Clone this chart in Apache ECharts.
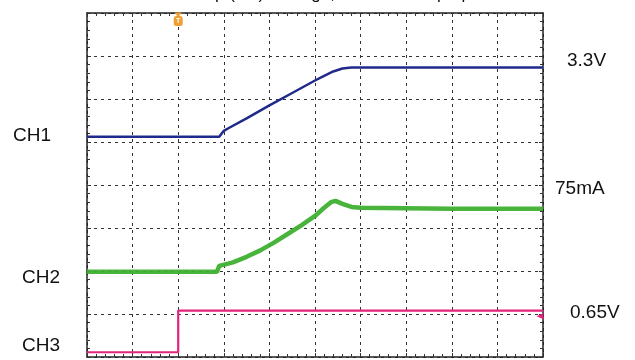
<!DOCTYPE html>
<html>
<head>
<meta charset="utf-8">
<script src="https://cdn.jsdelivr.net/npm/echarts@6/dist/echarts.min.js"></script>
<style>
html,body{margin:0;padding:0;background:#fff;}
#c{width:635px;height:360px;}
</style>
</head>
<body>
<div id="c"></div>
<script>
// Time axis in divisions (0..10), amplitude in divisions (0..8)
const ch1Time = [0, 2.9, 3.0, 3.1, 3.5, 4.0, 4.5, 5.0, 5.2, 5.4, 5.6, 5.8, 10];
const ch1Vals = [5.12, 5.12, 5.26, 5.32, 5.55, 5.85, 6.14, 6.43, 6.54, 6.64, 6.71, 6.73, 6.73];

const ch2Time = [0, 2.85, 2.9, 3.2, 3.5, 3.8, 4.1, 4.4, 4.7, 5.0, 5.2, 5.35, 5.45, 5.6, 5.8, 6.0, 7.0, 8.0, 9.0, 10];
const ch2Vals = [1.98, 1.98, 2.12, 2.2, 2.33, 2.48, 2.66, 2.86, 3.06, 3.28, 3.47, 3.6, 3.63, 3.56, 3.49, 3.47, 3.46, 3.45, 3.45, 3.45];

const ch3Time = [0, 2.0, 2.0, 10];
const ch3Vals = [0.11, 0.11, 1.08, 1.08];

const leftLabels = ['CH1', 'CH2', 'CH3'];
const rightLabels = ['3.3V', '75mA', '0.65V'];
const titleText = 'Start-up (EN): Voltage, Current Ramp-up';
const triggerTime = 2.0;

const chart = echarts.init(document.getElementById('c'));
const zip = (t, v) => t.map((x, i) => [x, v[i]]);

function axisCommon(pos, min, max, grid) {
  return {
    type: 'value', position: pos, min: min, max: max, interval: 1,
    axisLine: {show: true, onZero: false, lineStyle: {color: '#222', width: 1.5}},
    axisTick: {show: true, inside: true, length: 4, lineStyle: {color: '#333'}},
    minorTick: {show: true, splitNumber: 5, length: 3, lineStyle: {color: '#333'}},
    axisLabel: {show: false},
    splitLine: {show: grid, lineStyle: {color: '#333', type: [3, 4], width: 1}},
    minorSplitLine: {show: false}
  };
}

const option = {
  animation: false,
  backgroundColor: '#fff',
  title: {
    text: titleText, left: 'center', top: -19,
    textStyle: {fontFamily: 'Liberation Sans, Arial', fontSize: 17, fontWeight: 'normal', color: '#111'}
  },
  grid: {left: 87, right: 92, top: 13, bottom: 3},
  xAxis: [axisCommon('bottom', 0, 10, true), axisCommon('top', 0, 10, false)],
  yAxis: [axisCommon('left', 0, 8, true), axisCommon('right', 0, 8, false)],
  series: [
    {
      name: 'CH1', type: 'line', data: zip(ch1Time, ch1Vals), showSymbol: false,
      lineStyle: {color: '#1f2a8a', width: 2.5}, z: 5
    },
    {
      name: 'CH2', type: 'line', data: zip(ch2Time, ch2Vals), showSymbol: false,
      lineStyle: {color: '#3fb030', width: 4.5, opacity: 0.95}, z: 5
    },
    {
      name: 'CH3', type: 'line', data: zip(ch3Time, ch3Vals), showSymbol: false,
      lineStyle: {color: '#e4237c', width: 2.2}, z: 5,
      markPoint: {
        silent: true,
        data: [
          {coord: [triggerTime, 8], symbol: 'roundRect', symbolSize: [9, 10], symbolOffset: [0, 8],
           itemStyle: {color: '#f0a030'}, label: {show: true, formatter: 'T', color: '#fff', fontSize: 7, fontWeight: 'bold'}},
          {coord: [triggerTime, 8], symbol: 'triangle', symbolSize: [7, 5], symbolRotate: 180, symbolOffset: [0, 2],
           itemStyle: {color: '#f0a030'}, label: {show: false}},
          {coord: [10, 0.95], symbol: 'triangle', symbolSize: [6, 7], symbolRotate: 90, symbolOffset: [-3, 0],
           itemStyle: {color: '#e4237c'}, label: {show: false}}
        ]
      }
    }
  ],
  graphic: [
    {type: 'text', left: 13, top: 126, style: {text: leftLabels[0], font: '19px "Liberation Sans", Arial', fill: '#111'}},
    {type: 'text', left: 22, top: 268, style: {text: leftLabels[1], font: '19px "Liberation Sans", Arial', fill: '#111'}},
    {type: 'text', left: 22, top: 336, style: {text: leftLabels[2], font: '19px "Liberation Sans", Arial', fill: '#111'}},
    {type: 'text', left: 567, top: 51, style: {text: rightLabels[0], font: '19px "Liberation Sans", Arial', fill: '#111'}},
    {type: 'text', left: 555, top: 179, style: {text: rightLabels[1], font: '19px "Liberation Sans", Arial', fill: '#111'}},
    {type: 'text', left: 570, top: 303, style: {text: rightLabels[2], font: '19px "Liberation Sans", Arial', fill: '#111'}}
  ]
};
chart.setOption(option);
</script>
</body>
</html>
